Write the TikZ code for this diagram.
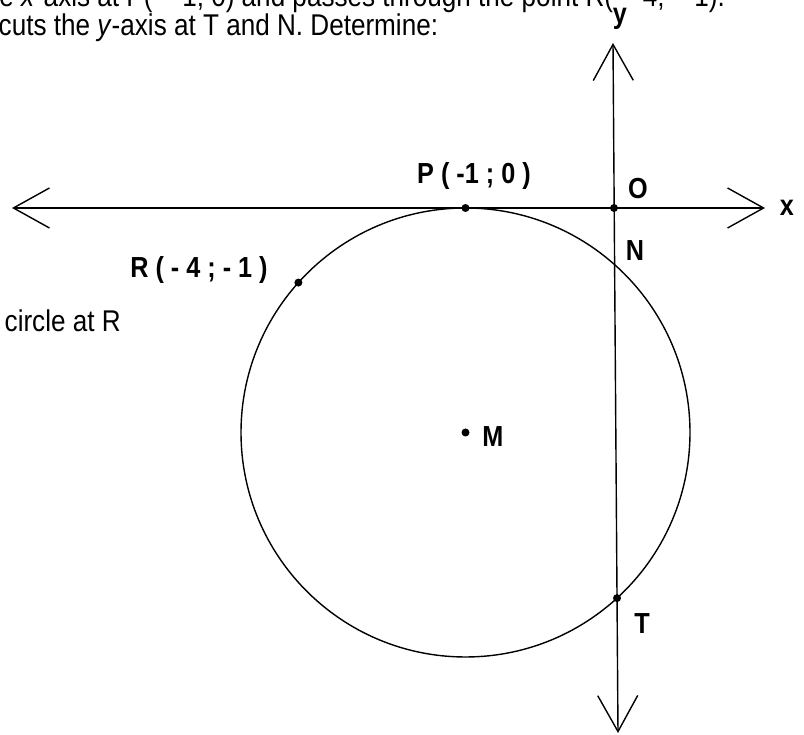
\documentclass[tikz,border=0pt]{standalone}
\usepackage{fontspec}
\setmainfont{Liberation Sans}[FakeStretch=0.87]
\usetikzlibrary{arrows.meta,intersections,calc}

\begin{document}
\begin{tikzpicture}[x=1pt, y=1pt,
		>={Straight Barb[length=36pt,width=40pt]},   % offene Pfeilspitzen
		line width=1.4pt,
		dot/.style={circle, fill, inner sep=0pt, minimum size=8pt},
		lab/.style={font=\fontsize{29}{32}\selectfont\bfseries, inner sep=0pt},
		txt/.style={font=\fontsize{30}{34}\selectfont, inner sep=0pt, anchor=base west}]
		\useasboundingbox (0,0) rectangle (804,735);
		\clip (0,0) rectangle (804,735); %Bildbereich
		% Text
		\node[txt] (zeile1) at (-23,728) {the \textit{x}-axis at P( − 1; 0) and passes through the point R( − 4; − 1).};
		\node[txt] (zeile2) at (-2,699) {cuts the \textit{y}-axis at T and N. Determine:};
		\node[txt] (zeile3) at (4,403) {circle at R};
		% Achsen zeichnen
		\coordinate (xl) at (12,527);
		\coordinate (xr) at (765,527);
		\coordinate (yt) at (613,692);
		\coordinate (yb) at (618,2);
		\draw[<->] (xl) -- (xr);
		\draw[<->, name path=yachse] (yt) -- (yb);
		\node[lab] (xlab) at (787,527) {x};
		\node[lab] (ylab) at (620,716.5) {y};
		% Kreis zeichnen
		\coordinate (M) at (465.5,302.5);
		\draw[name path=kreis] (M) circle (224.5);
		\path[name intersections={of=yachse and kreis, by={N,T}, sort by=yachse}];
		% Punkte
		\node[dot] (o) at (614,527) {};
		\node[dot] (p) at (465.5,527) {};
		\node[dot] (r) at ($(M)+(138.1:224.5)$) {};
		\node[dot] (m) at (M) {};
		\node[dot] (t) at (T) {};
		% Beschriftung
		\node[lab] (olab) at (638,546) {O};
		\node[lab] (nlab) at (635,484) {N};
		\node[lab] (tlab) at (642,111) {T};
		\node[lab] (mlab) at (493,298) {M};
		\node[lab] (plab) at (474,559) {P ( -1 ; 0 )};
		\node[lab] (rlab) at (199,465) {R ( - 4 ; - 1 )};
	\end{tikzpicture}
\end{document}
